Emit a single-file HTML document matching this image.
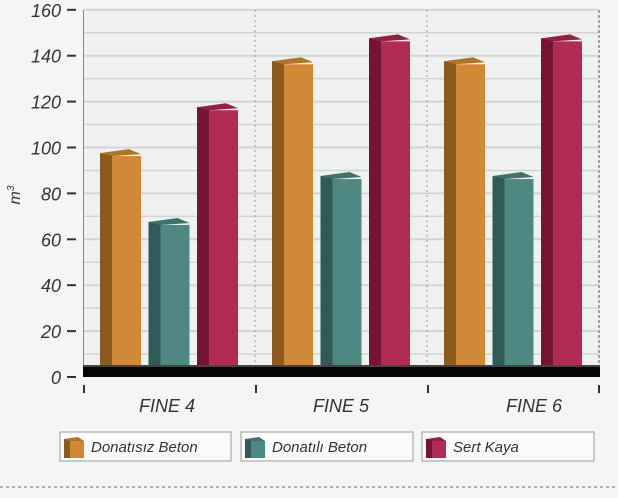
<!DOCTYPE html>
<html><head><meta charset="utf-8"><style>
body{margin:0;background:#f4f5f5;}
svg{display:block;font-family:"Liberation Sans",sans-serif;}
</style></head><body>
<svg id="c" width="618" height="498" xmlns="http://www.w3.org/2000/svg">
<rect width="618" height="498" fill="#f4f5f5"/>
<rect x="83" y="10" width="517" height="355" fill="#eff1f1"/>
<g id="grid"></g>
<line x1="255" y1="10" x2="255" y2="365" stroke="#999" stroke-dasharray="2,3"/>
<line x1="427" y1="10" x2="427" y2="365" stroke="#999" stroke-dasharray="2,3"/>
<line x1="599" y1="10" x2="599" y2="365" stroke="#888" stroke-width="1.5" stroke-dasharray="3,2"/>
<line x1="83.5" y1="10" x2="83.5" y2="377" stroke="#888" stroke-width="1"/>
<rect x="83" y="365" width="517" height="12" fill="#050505"/>
<rect x="83" y="365" width="517" height="2" fill="#444"/>
<g id="bars"></g>
<g id="ylab" font-style="italic" font-size="18" fill="#333" text-anchor="end"></g>
<text transform="translate(20,195) rotate(-90)" font-size="16" fill="#333" font-style="italic" text-anchor="middle">m<tspan dy="-6" font-size="10">3</tspan></text>
<g stroke="#333" stroke-width="2">
<line x1="84" y1="385" x2="84" y2="393"/><line x1="256" y1="385" x2="256" y2="393"/>
<line x1="428" y1="385" x2="428" y2="393"/><line x1="599" y1="385" x2="599" y2="393"/>
</g>
<g font-size="18" font-style="italic" fill="#333" text-anchor="middle">
<text x="167" y="412">FINE 4</text><text x="341" y="412">FINE 5</text><text x="534" y="412">FINE 6</text>
</g>
<g fill="#fafafa" stroke="#aaa" stroke-width="1.2">
<rect x="60" y="432" width="171" height="29"/><rect x="241" y="432" width="172" height="29"/><rect x="422" y="432" width="172" height="29"/>
</g>
<g id="leg"></g>
<g font-size="15" font-style="italic" fill="#333">
<text x="91" y="452">Donatısız Beton</text><text x="272" y="452">Donatılı Beton</text><text x="453" y="452">Sert Kaya</text>
</g>
<line x1="0" y1="487" x2="618" y2="487" stroke="#888" stroke-width="1.2" stroke-dasharray="3,3"/>
</svg>
<script>
var NS="http://www.w3.org/2000/svg";
function el(p,t,a){var e=document.createElementNS(NS,t);for(var k in a)e.setAttribute(k,a[k]);document.getElementById(p).appendChild(e);return e;}
function Y(v){return 377-v*2.295;}
for(var v=10;v<=160;v+=10){var y=Y(v);el("grid","line",{x1:84,x2:599,y1:y,y2:y,stroke:"#d3d5d5","stroke-width":v%20?1.5:2});}
for(var v=0;v<=160;v+=20){var y=Y(v);var t=el("ylab","text",{x:61,y:y+7});t.textContent=v;el("ylab","line",{x1:67,x2:76,y1:y,y2:y,stroke:"#333","stroke-width":2});}
var cols=[["#8a5a1e","#d08936","#b07428"],["#2f5a58","#4f8883","#3f716d"],["#761434","#b02c53","#931f43"]];
var data=[[98,68,118],[138,88,148],[138,88,148]];
for(var g=0;g<3;g++)for(var s=0;s<3;s++){
var x0=100+g*172+s*48.5,t=Y(data[g][s]),c=cols[s];
el("bars","rect",{x:x0,y:t+1,width:12,height:365-t-1,fill:c[0]});
el("bars","rect",{x:x0+12,y:t+4,width:29,height:365-t-4,fill:c[1]});
el("bars","polygon",{points:[x0,t+1,x0+12,t+4,x0+41,t+2,x0+29,t-3].join(" "),fill:c[2]});
}
for(var i=0;i<3;i++){var x=64+i*181,y=437;var c=cols[i];
el("leg","rect",{x:x,y:y+2,width:6,height:19,fill:c[0]});
el("leg","rect",{x:x+6,y:y+4,width:14,height:17,fill:c[1]});
el("leg","polygon",{points:[x,y+2,x+6,y+4,x+20,y+4,x+14,y].join(" "),fill:c[2]});}
</script>
</body></html>
